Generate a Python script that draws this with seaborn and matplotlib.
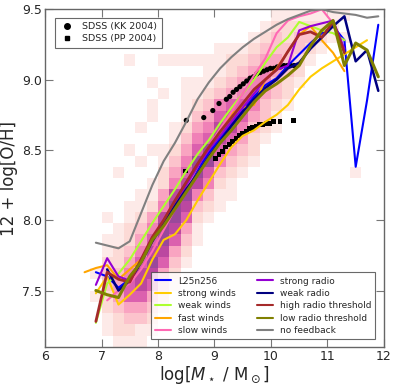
import numpy as np
import pandas as pd
import matplotlib
matplotlib.use("Agg")
import matplotlib.pyplot as plt
import seaborn as sns
from matplotlib.lines import Line2D

# ---------------- data ----------------
# 2D histogram: column index -> (first row index, levels bottom->top)
# x bins: 6..12 step 0.2 ; y bins: 7.1..9.5 step 0.08
hist_cols = {
    4: (4, [1, 0, 1]),
    5: (1, [1, 1, 2, 2, 3, 3, 2, 1, 1, 0, 1]),
    6: (0, [1, 2, 2, 3, 4, 4, 3, 2, 2, 1, 1, 0, 0, 0, 0, 1]),
    7: (0, [1, 2, 3, 4, 6, 6, 5, 4, 3, 2, 2, 1, 1, 0, 0, 0, 0, 1, 0, 0, 0, 0, 0, 0, 0, 1]),
    8: (0, [1, 1, 3, 4, 6, 7, 7, 6, 5, 4, 3, 2, 1, 1, 0, 0, 1, 0, 0, 1]),
    9: (1, [1, 2, 3, 4, 6, 7, 8, 7, 6, 5, 4, 2, 1, 1, 0, 0, 1, 0, 0, 1, 1, 0, 1]),
    10: (3, [1, 2, 3, 4, 6, 7, 8, 8, 7, 5, 4, 2, 2, 1, 1, 0, 0, 0, 0, 1, 0, 0, 1]),
    11: (5, [1, 2, 3, 4, 6, 7, 8, 8, 7, 5, 4, 3, 2, 1, 1, 0, 0, 0, 0, 0, 1]),
    12: (7, [1, 2, 3, 4, 6, 7, 8, 7, 6, 5, 4, 3, 2, 1, 1, 1, 1, 0, 1]),
    13: (9, [1, 1, 2, 3, 5, 7, 8, 8, 6, 5, 4, 3, 2, 1, 1, 0, 1]),
    14: (11, [1, 2, 3, 5, 6, 8, 8, 6, 5, 4, 3, 2, 1, 1, 1]),
    15: (12, [1, 1, 2, 3, 5, 6, 7, 7, 6, 5, 3, 2, 1, 1, 1]),
    16: (13, [1, 1, 2, 3, 4, 6, 7, 7, 6, 4, 3, 2, 2, 1]),
    17: (15, [1, 2, 3, 4, 5, 6, 6, 5, 4, 3, 2, 1]),
    18: (16, [1, 2, 2, 3, 4, 5, 5, 5, 4, 3, 2, 1]),
    19: (18, [1, 2, 3, 3, 4, 5, 5, 4, 3, 2, 1]),
    20: (19, [1, 1, 2, 3, 3, 4, 4, 3, 3, 2, 1]),
    21: (21, [1, 2, 2, 3, 3, 3, 2, 2, 1]),
    22: (23, [1, 2, 2, 3, 3, 2, 1]),
    23: (25, [1, 2, 3, 2, 1]),
    24: (26, [1, 2, 2, 1]),
    25: (27, [1, 1, 1]),
    26: (27, [1, 0, 1]),
    27: (15, [1]),
}

# SDSS observations
kk_x = [8.50, 8.81, 8.97, 9.08, 9.21, 9.27, 9.33, 9.39, 9.45, 9.51, 9.57, 9.63,
        9.69, 9.75, 9.81, 9.87, 9.93, 9.99, 10.05, 10.11, 10.17, 10.23, 10.29, 10.35, 10.41]
kk_y = [8.71, 8.73, 8.78, 8.83, 8.86, 8.88, 8.91, 8.93, 8.95, 8.97, 8.99, 9.01,
        9.02, 9.04, 9.05, 9.06, 9.07, 9.08, 9.08, 9.09, 9.09, 9.10, 9.10, 9.10, 9.10]
pp_x = [8.48, 9.02, 9.08, 9.14, 9.20, 9.26, 9.32, 9.38, 9.44, 9.50, 9.56, 9.62,
        9.68, 9.74, 9.80, 9.86, 9.92, 9.98, 10.04, 10.16, 10.40]
pp_y = [8.35, 8.44, 8.47, 8.49, 8.52, 8.54, 8.56, 8.58, 8.60, 8.62, 8.63, 8.65,
        8.66, 8.67, 8.68, 8.68, 8.69, 8.69, 8.70, 8.70, 8.71]

# simulation medians (x grid from 6.9 in steps of 0.2, unless stated)
mass_grid = [6.9, 7.1, 7.3, 7.5, 7.7, 7.9, 8.1, 8.3, 8.5, 8.7, 8.9, 9.1, 9.3,
             9.5, 9.7, 9.9, 10.1, 10.3, 10.5, 10.7, 10.9, 11.1, 11.3, 11.5, 11.7, 11.9]

l25 = [7.63, 7.60, 7.52, 7.58, 7.72, 7.86, 7.98, 8.10, 8.24, 8.36, 8.48, 8.58, 8.68,
       8.78, 8.88, 8.96, 9.01, 9.10, 9.18, 9.26, 9.33, 9.38, 9.28, 8.38, 8.85, 9.39]
strong_winds = [7.48, 7.60, 7.40, 7.47, 7.55, 7.72, 7.86, 7.90, 8.00, 8.14, 8.27, 8.40,
                8.52, 8.60, 8.64, 8.70, 8.75, 8.82, 8.93, 9.02, 9.08, 9.13, 9.18, 9.23, 9.28]
weak_winds = [7.27, 7.55, 7.62, 7.72, 7.85, 7.98, 8.10, 8.22, 8.35, 8.47, 8.57, 8.69,
              8.80, 8.90, 9.00, 9.12, 9.23, 9.30, 9.41, 9.38, 9.35, 9.33, 9.28]
fast_x = [6.7] + mass_grid[:23]
fast_winds = [7.63, 7.66, 7.68, 7.58, 7.65, 7.72, 7.85, 7.98, 8.12, 8.25, 8.38, 8.52,
              8.62, 8.76, 8.80, 8.82, 9.00, 9.08, 9.20, 9.32, 9.38, 9.28, 9.19, 9.06]
slow_x = mass_grid[1:22]
slow_winds = [7.43, 7.50, 7.55, 7.65, 7.78, 7.93, 8.08, 8.23, 8.38, 8.52, 8.65, 8.77,
              8.90, 9.03, 9.15, 9.33, 9.42, 9.45, 9.47, 9.50, 9.40]
strong_radio = [7.54, 7.73, 7.60, 7.57, 7.72, 7.87, 8.00, 8.12, 8.25, 8.38, 8.50, 8.60,
                8.70, 8.80, 8.90, 9.00, 9.07, 9.10, 9.35, 9.38, 9.40, 9.42, 9.22]
weak_x = mass_grid[1:]
weak_radio = [7.65, 7.50, 7.57, 7.70, 7.85, 7.98, 8.10, 8.22, 8.33, 8.45, 8.56, 8.67,
              8.77, 8.86, 8.94, 9.00, 9.08, 9.12, 9.22, 9.30, 9.38, 9.45, 9.13, 9.21, 8.92]
high_radio = [7.28, 7.63, 7.58, 7.56, 7.72, 7.88, 8.00, 8.14, 8.27, 8.40, 8.52, 8.63,
              8.73, 8.83, 8.93, 9.00, 9.07, 9.20, 9.32, 9.34, 9.30, 9.41, 9.19]
low_radio = [7.50, 7.47, 7.45, 7.60, 7.70, 7.86, 7.96, 8.08, 8.20, 8.32, 8.44, 8.55,
             8.64, 8.74, 8.84, 8.92, 8.97, 9.03, 9.10, 9.24, 9.35, 9.42, 9.10, 9.26, 9.21, 9.02]
no_feedback = [7.84, 7.82, 7.80, 7.85, 8.05, 8.25, 8.42, 8.55, 8.70, 8.86, 8.98, 9.08,
               9.16, 9.23, 9.29, 9.34, 9.39, 9.43, 9.46, 9.49, 9.50, 9.48, 9.47, 9.46, 9.44, 9.45]

models = [
    ("L25n256", mass_grid, l25, "#0000ff", 1.5),
    ("strong winds", mass_grid[:25], strong_winds, "#ffcc00", 1.5),
    ("weak winds", mass_grid[:23], weak_winds, "#adff2f", 1.5),
    ("fast winds", fast_x, fast_winds, "#ffa500", 1.5),
    ("slow winds", slow_x, slow_winds, "#ff69b4", 1.5),
    ("strong radio", mass_grid[:23], strong_radio, "#9400d3", 1.5),
    ("weak radio", weak_x, weak_radio, "#000080", 1.8),
    ("high radio threshold", mass_grid[:23], high_radio, "#a52a2a", 2.0),
    ("low radio threshold", mass_grid, low_radio, "#808000", 2.2),
    ("no feedback", mass_grid, no_feedback, "#808080", 1.5),
]

# ---------------- plot ----------------
sns.set_style("ticks")
plt.rcParams['font.family'] = ['DejaVu Sans']
plt.rcParams['mathtext.fontset'] = 'dejavusans'

fig = plt.figure(figsize=(3.95, 3.87), dpi=100)
ax = fig.add_axes([0.114, 0.104, 0.858, 0.872])

H = np.zeros((30, 30))
for c, (r0, levels) in hist_cols.items():
    for k, v in enumerate(levels):
        H[r0 + k, c] = v
Hm = np.ma.masked_where(H <= 0, H)
xe = np.linspace(6, 12, 31)
ye = np.linspace(7.1, 9.5, 31)
ax.pcolormesh(xe, ye, Hm, cmap=sns.color_palette("RdPu", as_cmap=True),
              vmin=0, vmax=9, alpha=0.72, edgecolors='none', zorder=1)

sns.scatterplot(x=kk_x, y=kk_y, marker='o', s=14, color='black',
                edgecolor='none', ax=ax, zorder=3, legend=False)
sns.scatterplot(x=pp_x, y=pp_y, marker='s', s=12, color='black',
                edgecolor='none', ax=ax, zorder=3, legend=False)

line_handles = []
for name, xs, ys, col, lw in models:
    df = pd.DataFrame({"x": xs, "y": ys})
    sns.lineplot(data=df, x="x", y="y", color=col, lw=lw, ax=ax,
                 sort=False, estimator=None, zorder=4, legend=False)
    line_handles.append(Line2D([0], [0], color=col, lw=1.5, label=name))

ax.set_xlim(6, 12)
ax.set_ylim(7.1, 9.5)
ax.set_xticks([6, 7, 8, 9, 10, 11, 12])
ax.set_yticks([7.5, 8.0, 8.5, 9.0, 9.5])
ax.set_yticklabels(["7.5", "8.0", "8.5", "9.0", "9.5"])
ax.tick_params(direction='in', top=True, right=True, length=6, width=0.8,
               color='#777777', labelsize=9, pad=2)
for sp in ax.spines.values():
    sp.set_color('#666666')
    sp.set_linewidth(1.0)

ax.set_xlabel(r'log[$M_\star$ / M$_\odot$]', fontsize=12, labelpad=1)
ax.set_ylabel('12 + log[O/H]', fontsize=12, labelpad=3)

obs_handles = [
    Line2D([0], [0], marker='o', ls='none', color='black', markersize=4, label='SDSS (KK 2004)'),
    Line2D([0], [0], marker='s', ls='none', color='black', markersize=3.5, label='SDSS (PP 2004)'),
]
leg1 = ax.legend(handles=obs_handles, loc='upper left', bbox_to_anchor=(0.028, 0.975),
                 fontsize=6.8, frameon=True, fancybox=False, edgecolor='#444444',
                 handlelength=1.7, borderpad=0.45, labelspacing=0.35, borderaxespad=0.0)
leg1.get_frame().set_linewidth(0.8)
ax.add_artist(leg1)

leg2 = ax.legend(handles=line_handles, loc='lower right', bbox_to_anchor=(0.975, 0.022),
                 ncol=2, fontsize=6.5, frameon=True, fancybox=False, edgecolor='#444444',
                 handlelength=1.7, borderpad=0.45, labelspacing=0.38, columnspacing=2.4,
                 borderaxespad=0.0)
leg2.get_frame().set_linewidth(0.8)

fig.savefig("out.png", dpi=100)
